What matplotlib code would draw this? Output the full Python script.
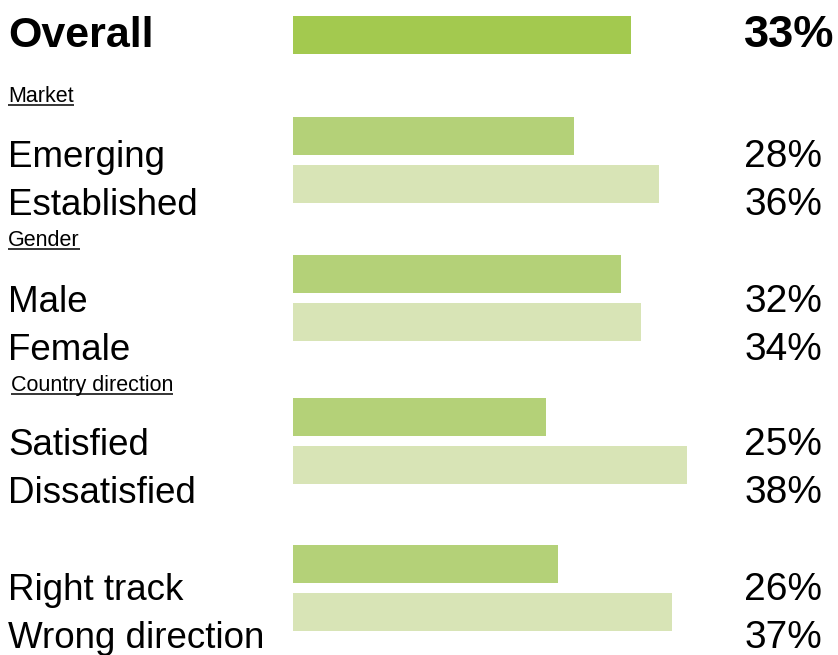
import matplotlib
matplotlib.use('Agg')
import matplotlib.pyplot as plt

# data
overall_value = 33.0
overall_label = '33%'

groups = ['Market', 'Gender', 'Country direction', '']
categories = [['Emerging', 'Established'],
              ['Male', 'Female'],
              ['Satisfied', 'Dissatisfied'],
              ['Right track', 'Wrong direction']]
bar_values = [[27.4, 35.7],
              [32.0, 34.0],
              [24.7, 38.5],
              [25.9, 37.0]]
pct_labels = [[28, 36],
              [32, 34],
              [25, 38],
              [26, 37]]

# layout (pixel rows from top of the 838x655 canvas)
W, H = 838, 655
x0_px = 293
px_per_unit = 10.24
overall_row = 34.5
group_rows = [136, 274, 417, 564]
row_step = 48
label_offset = [31, 38, 38, 36]
header_base = [102, 246, 391, None]
header_x = [8, 8, 11, None]
bar_h = 38

c_overall = '#a3c94f'
c_dark = '#b4d178'
c_light = '#d8e4b6'

plt.rcParams['font.family'] = ['Liberation Sans', 'DejaVu Sans']

fig = plt.figure(figsize=(W / 100, H / 100), dpi=100)
ax = fig.add_axes([0, 0, 1, 1])
ax.set_xlim(-x0_px / px_per_unit, (W - x0_px) / px_per_unit)
ax.set_ylim(H, 0)
ax.axis('off')


def px(x):
    return (x - x0_px) / px_per_unit


# overall row
ax.barh(overall_row, overall_value, height=bar_h, left=0, color=c_overall)
ax.text(px(8), 47, 'Overall', fontsize=31, fontweight='bold', va='baseline', ha='left')
ax.text(px(834), 47, overall_label, fontsize=32.5, fontweight='bold', va='baseline', ha='right')

headers = []
for g, name in enumerate(groups):
    for i in range(2):
        y = group_rows[g] + i * row_step
        ax.barh(y, bar_values[g][i], height=bar_h, left=0,
                color=c_dark if i == 0 else c_light)
        base = y + label_offset[g]
        ax.text(px(8), base, categories[g][i], fontsize=26.5, va='baseline', ha='left')
        ax.text(px(822), base, f'{pct_labels[g][i]}%', fontsize=28, va='baseline', ha='right')
    if name:
        t = ax.text(px(header_x[g]), header_base[g], name, fontsize=15.5,
                    va='baseline', ha='left')
        headers.append((t, header_base[g]))

# underline the group headers
fig.canvas.draw()
renderer = fig.canvas.get_renderer()
inv = ax.transData.inverted()
for t, base in headers:
    bb = t.get_window_extent(renderer)
    xa = inv.transform((bb.x0, 0))[0]
    xb = inv.transform((bb.x1, 0))[0]
    ax.plot([xa, xb], [base + 3, base + 3], color='black', lw=1.1,
            solid_capstyle='butt')

fig.savefig('out.png', dpi=100)
